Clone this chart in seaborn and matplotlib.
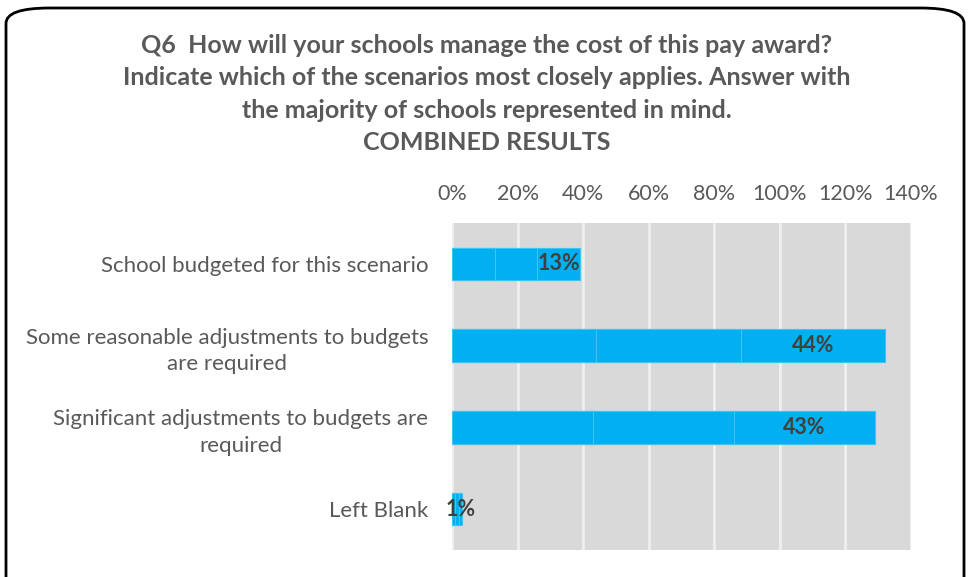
import matplotlib
matplotlib.use("Agg")
import matplotlib.pyplot as plt
from matplotlib.patches import FancyBboxPatch
from matplotlib.ticker import MultipleLocator, FuncFormatter
import seaborn as sns
import pandas as pd

# Answer categories (top to bottom)
categories = [
    "School budgeted for this scenario",
    "Some reasonable adjustments to budgets\nare required",
    "Significant adjustments to budgets are\nrequired",
    "Left Blank",
]
# Three stacked series, each in percent
series_a = [13, 44, 43, 1]
series_b = [13, 44, 43, 1]
series_c = [13, 44, 43, 1]
# Values printed on the bars
label_values = [13, 44, 43, 1]

title_text = ("Q6  How will your schools manage the cost of this pay award?\n"
              "Indicate which of the scenarios most closely applies. Answer with\n"
              "the majority of schools represented in mind.\n"
              "COMBINED RESULTS")

sns.set_theme(style="white")
plt.rcParams["font.family"] = ["Lato", "DejaVu Sans"]

BAR = "#00B0F0"
EDGE = "#3FC3F3"
GREY_TXT = "#595959"

df = pd.DataFrame({
    "category": categories,
    "a": series_a,
    "b": series_b,
    "c": series_c,
})
df["ab"] = df["a"] + df["b"]
df["abc"] = df["ab"] + df["c"]

fig = plt.figure(figsize=(9.70, 5.77), dpi=100)

# rounded frame around the chart
frame = FancyBboxPatch((6 / 970, -30 / 577), 958 / 970, (577 - 8 + 30) / 577,
                       boxstyle="round,pad=0,rounding_size=0.045",
                       transform=fig.transFigure, facecolor="white",
                       edgecolor="black", linewidth=2, mutation_aspect=577 / 970,
                       zorder=-10)
fig.patches.append(frame)

ax = fig.add_axes([452 / 970, 1 - 550 / 577, 459 / 970, 327 / 577])
ax.set_zorder(1)
ax.set_facecolor("#D9D9D9")

# stacked bars: draw cumulative totals from largest to smallest
for col in ["abc", "ab", "a"]:
    sns.barplot(data=df, x=col, y="category", order=categories, orient="h",
                color=BAR, saturation=1, width=0.4, edgecolor=EDGE,
                linewidth=0.8, ax=ax, zorder=3)

ax.set_xlim(0, 140)
ax.xaxis.set_major_locator(MultipleLocator(20))
ax.xaxis.set_major_formatter(FuncFormatter(lambda v, p: f"{v:.0f}%"))
ax.xaxis.tick_top()
ax.tick_params(axis="x", length=0, pad=14, labelsize=15.5, labelcolor=GREY_TXT)
ax.tick_params(axis="y", length=0, pad=17, labelsize=16, labelcolor=GREY_TXT)
for lbl in ax.get_yticklabels():
    lbl.set_multialignment("center")
    lbl.set_linespacing(1.4)
ax.set_xlabel("")
ax.set_ylabel("")
ax.grid(axis="x", color="#EFEFEF", linewidth=2, zorder=1)
ax.set_axisbelow(True)
for s in ax.spines.values():
    s.set_visible(False)

# value labels centred on the last stacked segment
for i, (ab, abc, v) in enumerate(zip(df["ab"], df["abc"], label_values)):
    ax.text((ab + abc) / 2, i, f"{v}%", ha="center", va="center",
            fontsize=15.5, fontweight="bold", color="#404040", zorder=5)

fig.text(487 / 970, 1 - 94 / 577, title_text, ha="center", va="center",
         fontsize=18, fontweight="bold", color=GREY_TXT, linespacing=1.48)

fig.savefig("out.png", dpi=100)
